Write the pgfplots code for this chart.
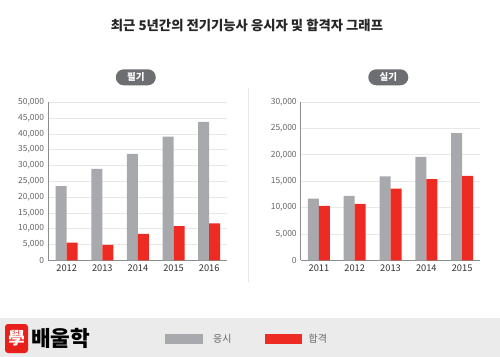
\documentclass[border=0pt]{standalone}
\usepackage{fontspec}
\setmainfont{Noto Sans CJK KR}
\usepackage{pgfplots}
\pgfplotsset{compat=1.18}
\definecolor{gbar}{HTML}{A7A9AC}
\definecolor{rbar}{HTML}{EE2B22}
\definecolor{pill}{HTML}{6D6E71}
\definecolor{foot}{HTML}{EBEBEB}
\definecolor{gridc}{HTML}{E8E8E8}
\definecolor{axc}{HTML}{8C8C8C}
\definecolor{tickc}{HTML}{666666}
\definecolor{xtickc}{HTML}{333333}
\definecolor{logored}{HTML}{E8201C}
\pgfplotsset{
  panel/.style={
    scale only axis, anchor=south west,
    ybar=0pt, bar width=11bp,
    ymin=0, axis x line*=bottom, axis y line*=left,
    axis line style={axc, line width=0.9bp},
    ymajorgrids, grid style={gridc, line width=0.7bp},
    xtick=data, major tick length=0pt,
    /pgf/number format/assume math mode=true,
    yticklabel style={font=\fontsize{8.5}{10}\selectfont, text=tickc, /pgf/number format/1000 sep={,}, xshift=-0.5bp},
    xticklabel style={font=\fontsize{9.3}{10}\selectfont, text=xtickc, yshift=-1bp},
    scaled y ticks=false,
    enlarge x limits=false,
    clip=false,
  },
  gb/.style={fill=gbar, draw=none},
  rb/.style={fill=rbar, draw=none},
}
\begin{document}
\begin{tikzpicture}
\fill[white] (0,0) rectangle (500bp,-357bp);
% title
\node[font=\fontsize{13.4}{15}\selectfont\bfseries, text=black!85] at (247bp,-25bp) {최근 5년간의 전기기능사 응시자 및 합격자 그래프};
% separator
\draw[gridc, line width=0.8bp] (248.3bp,-88bp) -- (248.3bp,-282bp);
% pills
\fill[pill, rounded corners=8bp] (115.8bp,-69.3bp) rectangle (155.8bp,-85.3bp);
\node[text=white, font=\fontsize{9.5}{10}\selectfont\bfseries] at (135.8bp,-77.3bp) {필기};
\fill[pill, rounded corners=8bp] (368.3bp,-69.3bp) rectangle (408.3bp,-85.3bp);
\node[text=white, font=\fontsize{9.5}{10}\selectfont\bfseries] at (388.3bp,-77.3bp) {실기};

\begin{axis}[panel, at={(48bp,-260.3bp)}, width=179bp, height=158bp,
  ymax=50000, ytick={0,5000,...,50000},
  xmin=-0.525, xmax=4.5,
  xticklabels={2012,2013,2014,2015,2016}]
\addplot[gb] coordinates {(0,23500) (1,28900) (2,33700) (3,39100) (4,43800)};
\addplot[rb] coordinates {(0,5600) (1,4900) (2,8400) (3,10800) (4,11700)};
\end{axis}

\begin{axis}[panel, at={(300.7bp,-260.3bp)}, width=179.3bp, height=158.3bp,
  ymax=30000, ytick={0,5000,...,30000},
  xmin=-0.51, xmax=4.5,
  xticklabels={2011,2012,2013,2014,2015}]
\addplot[gb] coordinates {(0,11700) (1,12200) (2,15900) (3,19600) (4,24100)};
\addplot[rb] coordinates {(0,10300) (1,10700) (2,13600) (3,15400) (4,16000)};
\end{axis}

% footer
\fill[foot] (0,-318.3bp) rectangle (500bp,-357bp);
\fill[logored, rounded corners=3bp] (5bp,-324bp) rectangle (28bp,-353bp);
\node[text=white, font=\fontsize{17}{18}\selectfont\bfseries] at (16.5bp,-338.5bp) {學};
\node[anchor=west, inner sep=0pt, font=\fontsize{21.5}{22}\selectfont\bfseries, text=black] at (31bp,-338.5bp) {배울학};
\fill[gbar] (165.3bp,-334bp) rectangle (203bp,-344.3bp);
\node[anchor=west, inner sep=0pt, text=tickc, font=\fontsize{10}{11}\selectfont] at (213bp,-339bp) {응시};
\fill[rbar] (265bp,-334bp) rectangle (302bp,-344.3bp);
\node[anchor=west, inner sep=0pt, text=tickc, font=\fontsize{10}{11}\selectfont] at (308.5bp,-339bp) {합격};
\end{tikzpicture}
\end{document}
